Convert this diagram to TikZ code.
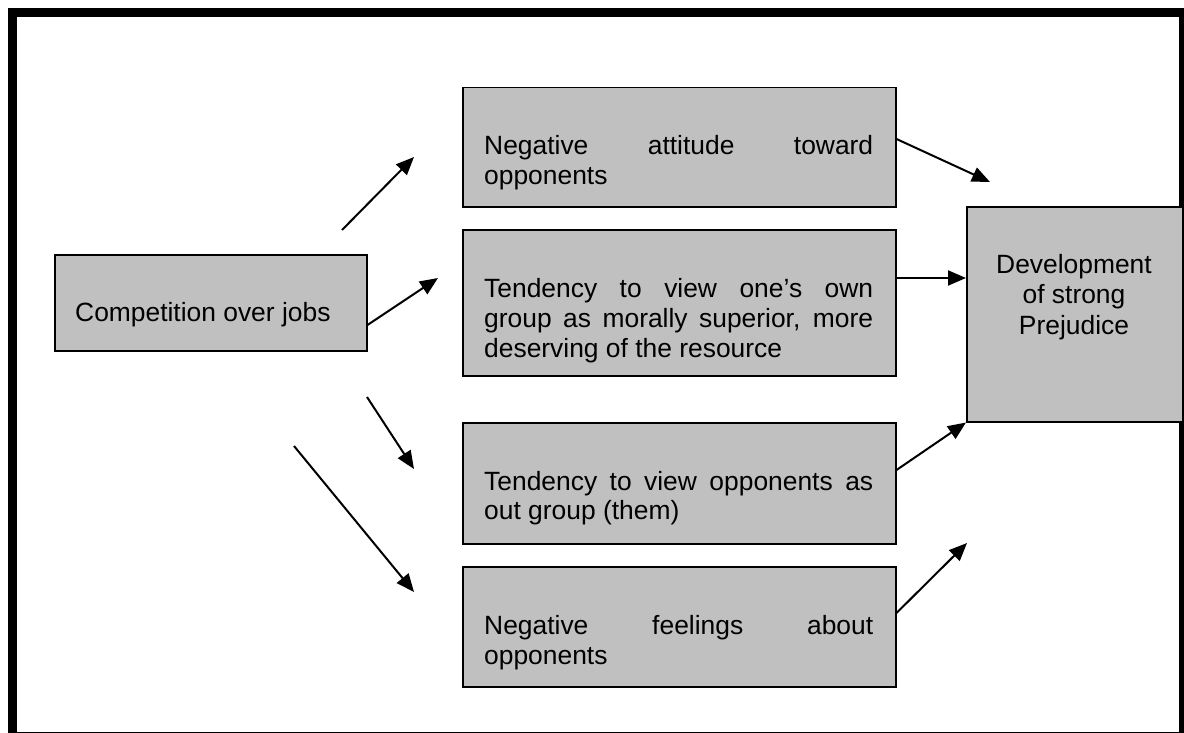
\documentclass[tikz,border=0pt]{standalone}
\usepackage{fontspec}
\setmainfont{Liberation Sans}
\usetikzlibrary{arrows.meta,calc}
\definecolor{boxgray}{HTML}{C0C0C0}
\begin{document}
\begin{tikzpicture}[x=1pt,y=-1pt,
  box/.style={draw=black,line width=1.5pt,fill=boxgray,rectangle,inner sep=0pt,anchor=north west},
  arr/.style={line width=2pt,-{Triangle[length=18pt,width=15pt]}},
  txt/.style={anchor=base west,inner sep=0pt,font=\fontsize{26.4}{30}\selectfont},
  ctxt/.style={anchor=base,inner sep=0pt,font=\fontsize{26.4}{30}\selectfont},
]
\useasboundingbox (0,0) rectangle (1184,733);
\begin{scope}
\clip (0,0) rectangle (1184,733);
\draw[line width=9pt] (12.5,12.5) rectangle (1183.8,736);
\end{scope}

% boxes
\node[box,minimum width=312pt,minimum height=96pt] (comp) at (54,254) {};
\node[box,minimum width=433pt,minimum height=119pt] (b1) at (462,87) {};
\node[box,minimum width=433pt,minimum height=146pt] (b2) at (462,229) {};
\node[box,minimum width=433pt,minimum height=121pt] (b3) at (462,422) {};
\node[box,minimum width=433pt,minimum height=120pt] (b4) at (462,566) {};
\node[box,minimum width=216pt,minimum height=215pt] (r) at (966,206) {};

% texts
\node[txt] (tc) at (75,321) {Competition over jobs};
\node[txt] (t1a) at (484,155) {\makebox[389pt][s]{Negative attitude toward}};
\node[txt] (t1b) at (484,185) {opponents};
\node[txt] (t2a) at (484,297) {\makebox[389pt][s]{Tendency to view one’s own}};
\node[txt] (t2b) at (484,327) {\makebox[389pt][s]{group as morally superior, more}};
\node[txt] (t2c) at (484,357) {deserving of the resource};
\node[txt] (t3a) at (484,490) {\makebox[389pt][s]{Tendency to view opponents as}};
\node[txt] (t3b) at (484,519) {out group (them)};
\node[txt] (t4a) at (484,634) {\makebox[389pt][s]{Negative feelings about}};
\node[txt] (t4b) at (484,664) {opponents};
\node[ctxt] (tr1) at (1074,273) {Development};
\node[ctxt] (tr2) at (1074,303) {of strong};
\node[ctxt] (tr3) at (1074,334) {Prejudice};

% free arrow ends
\coordinate (a1s) at (342,230);
\coordinate (a1e) at (414,157);
\coordinate (a2e) at (438,278);
\coordinate (a3s) at (367,397);
\coordinate (a3e) at (414,469);
\coordinate (a4s) at (294,446);
\coordinate (a4e) at (414,592);
\coordinate (a5e) at (990,182);
\coordinate (a8e) at (967,543);

\draw[arr] (a1s) -- (a1e);
\draw[arr] (comp.east |- 0,325) -- (a2e);
\draw[arr] (a3s) -- (a3e);
\draw[arr] (a4s) -- (a4e);
\draw[arr] (b1.east |- 0,139) -- (a5e);
\draw[arr] (b2.east |- 0,278) -- (r.west |- 0,278);
\draw[arr] (b3.east |- 0,470) -- (r.south west);
\draw[arr] (b4.east |- 0,613) -- (a8e);
\end{tikzpicture}
\end{document}
